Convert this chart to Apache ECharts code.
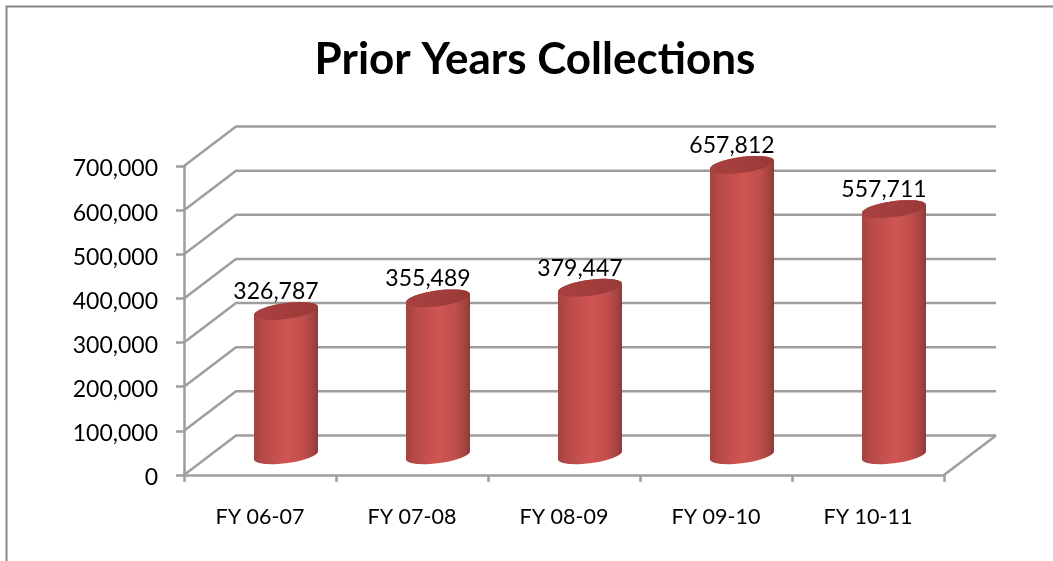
<!DOCTYPE html>
<html><head><meta charset="utf-8">
<style>html,body{margin:0;padding:0;background:#fff}#c{width:1053px;height:561px}</style>
<script src="https://cdn.jsdelivr.net/npm/echarts@6/dist/echarts.min.js"></script>
</head><body><div id="c"></div>
<script>
const categories = ['FY 06-07','FY 07-08','FY 08-09','FY 09-10','FY 10-11'];
const collections = [326787,355489,379447,657812,557711];
const valueTicks = [0,100000,200000,300000,400000,500000,600000,700000];

const depthX = 52, depthY = -39.5, gray = '#9e9e9e', lineW = 2.5;
const radiusX = 32, radiusY = 8, shear = -0.125;

function ellipsePts(cx, cy, from, to, n){
  const out = [];
  for(let i=0;i<=n;i++){
    const t = from + (to-from)*i/n;
    const dx = radiusX*Math.cos(t);
    out.push([cx+dx, cy+dx*shear+radiusY*Math.sin(t)]);
  }
  return out;
}
function wallItem(params, api){
  const v = api.value(1), y = api.coord([0,v])[1], cs = params.coordSys;
  const x0 = cs.x, x1 = cs.x+cs.width;
  const st = {stroke:gray, lineWidth:lineW, fill:null, lineJoin:'round'};
  const pts = [[x0,y],[x0+depthX,y+depthY],[x1+depthX,y+depthY]];
  const kids = [{type:'polyline',shape:{points:pts},style:st}];
  if(v===0) kids.push({type:'line',shape:{x1:x1,y1:y,x2:x1+depthX,y2:y+depthY},style:st});
  return {type:'group',children:kids};
}
function cylItem(params, api){
  const p = api.coord([api.value(0), api.value(1)]);
  const base = api.coord([api.value(0), 0]);
  const cx = p[0]+depthX/2, top = p[1]+depthY/2, bot = base[1]+depthY/2;
  const body = ellipsePts(cx,bot,Math.PI,0,36).concat(ellipsePts(cx,top,0,-Math.PI,36));
  return {type:'group',children:[
    {type:'polygon',shape:{points:body},style:{fill:new echarts.graphic.LinearGradient(0,0,1,0,[
      {offset:0,color:'#a64240'},{offset:.12,color:'#b54947'},{offset:.5,color:'#cf5552'},
      {offset:.78,color:'#c04f4c'},{offset:.93,color:'#a34341'},{offset:1,color:'#8c3a38'}])}},
    {type:'polygon',shape:{points:ellipsePts(cx,top,0,2*Math.PI,48)},style:{fill:new echarts.graphic.LinearGradient(0,0,1,0,[
      {offset:0,color:'#a8413f'},{offset:.5,color:'#a33e3c'},{offset:1,color:'#983a38'}])}},
    {type:'text',x:cx-10,y:top-19.5,style:{text:api.value(2),fill:'#000',fontFamily:'Lato',fontSize:23,align:'center',verticalAlign:'middle'}}
  ]};
}
const chart = echarts.init(document.getElementById('c'),null,{renderer:'canvas'});
chart.setOption({
  animation:false,
  backgroundColor:'#fff',
  title:{text:'Prior Years Collections',left:530,top:33,textAlign:'center',
    textStyle:{fontFamily:'Lato',fontWeight:'bold',fontSize:44,color:'#000'}},
  grid:{left:184,top:166,width:760,height:309},
  xAxis:{type:'category',data:categories,boundaryGap:true,
    axisLine:{show:true,lineStyle:{color:gray,width:lineW}},
    axisTick:{show:true,length:7,lineStyle:{color:gray,width:lineW},alignWithLabel:false},
    axisLabel:{color:'#000',fontFamily:'Lato',fontSize:21.5,margin:31},splitLine:{show:false}},
  yAxis:{type:'value',min:0,max:700000,interval:100000,
    axisLine:{show:true,lineStyle:{color:gray,width:lineW}},
    axisTick:{show:true,length:8,lineStyle:{color:gray,width:lineW}},
    axisLabel:{color:'#000',fontFamily:'Lato',fontSize:23,margin:26,verticalAlign:'top',lineHeight:6,
      formatter:v=>v.toLocaleString('en-US')},splitLine:{show:false}},
  series:[
    {type:'custom',z:1,silent:true,renderItem:wallItem,encode:{x:0,y:1},
      data:valueTicks.map(v=>[0,v])},
    {type:'custom',z:3,renderItem:cylItem,encode:{x:0,y:1},
      data:collections.map((v,i)=>[i,v,v.toLocaleString('en-US')])}
  ],
  graphic:[{type:'polyline',silent:true,shape:{points:[[6.5,561],[6.5,6.5],[1053,6.5]]},
    style:{stroke:'#868686',lineWidth:2,fill:null}}]
});
</script></body></html>
